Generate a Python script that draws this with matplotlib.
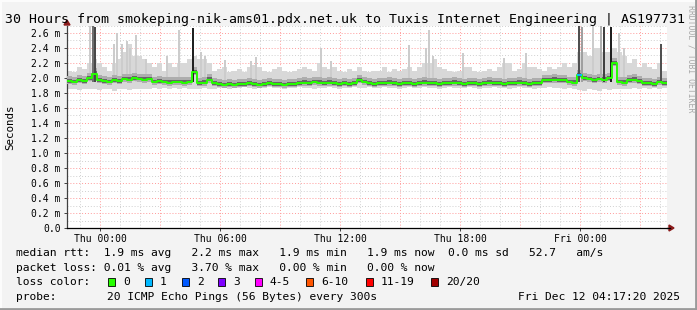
import numpy as np
import matplotlib
matplotlib.use("Agg")
import matplotlib.pyplot as plt
from matplotlib.patches import Rectangle, Polygon
from matplotlib.lines import Line2D

plt.rcParams['font.family'] = ['DejaVu Sans Mono']

# time axis: hours relative to Thu 00:00, one step per 15 minutes
t_start = -1.65
t_step = 0.25

# median rtt per step (ms)
median = [1.96, 1.95, 1.97, 1.96, 2.00, 2.06, 1.97, 1.96, 1.95, 1.97,
          1.96, 1.99, 1.98, 2.00, 1.99, 1.98, 1.99, 1.95, 1.96, 1.95,
          1.94, 1.95, 1.95, 1.94, 1.95, 2.08, 1.93, 1.94, 1.98, 1.93,
          1.92, 1.91, 1.92, 1.91, 1.92, 1.92, 1.93, 1.92, 1.91, 1.92,
          1.93, 1.92, 1.92, 1.91, 1.92, 1.92, 1.93, 1.94, 1.93, 1.95,
          1.94, 1.93, 1.94, 1.93, 1.92, 1.93, 1.92, 1.93, 1.97, 1.95,
          1.93, 1.92, 1.93, 1.93, 1.94, 1.93, 1.92, 1.93, 1.93, 1.92,
          1.93, 1.94, 1.93, 1.93, 1.92, 1.93, 1.93, 1.94, 1.93, 1.92,
          1.93, 1.93, 1.92, 1.93, 1.94, 1.93, 1.93, 1.92, 1.93, 1.93,
          1.94, 1.93, 1.92, 1.93, 1.93, 1.97, 1.97, 1.98, 1.97, 1.97,
          1.95, 1.94, 2.04, 2.00, 1.99, 1.97, 1.99, 1.98, 2.00, 2.20,
          1.95, 1.94, 1.97, 1.98, 1.96, 1.93, 1.93, 1.92, 1.95, 1.93]

# highest / lowest ping per step (ms), without the isolated spikes
smoke_hi = [2.10, 2.08, 2.15, 2.12, 2.20, 2.25, 2.20, 2.15, 2.10, 2.20,
            2.25, 2.35, 2.45, 2.30, 2.30, 2.25, 2.20, 2.15, 2.20, 2.10,
            2.20, 2.15, 2.20, 2.20, 2.25, 2.30, 2.25, 2.25, 2.20, 2.10,
            2.12, 2.15, 2.08, 2.10, 2.12, 2.08, 2.15, 2.18, 2.15, 2.10,
            2.08, 2.12, 2.15, 2.10, 2.08, 2.10, 2.12, 2.15, 2.12, 2.10,
            2.20, 2.15, 2.12, 2.15, 2.10, 2.08, 2.12, 2.10, 2.15, 2.10,
            2.08, 2.10, 2.10, 2.15, 2.08, 2.12, 2.10, 2.12, 2.15, 2.10,
            2.15, 2.20, 2.20, 2.25, 2.15, 2.12, 2.10, 2.08, 2.10, 2.15,
            2.15, 2.10, 2.08, 2.10, 2.12, 2.10, 2.15, 2.20, 2.20, 2.10,
            2.12, 2.20, 2.15, 2.15, 2.12, 2.10, 2.15, 2.12, 2.15, 2.20,
            2.15, 2.20, 2.35, 2.35, 2.30, 2.40, 2.40, 2.35, 2.35, 2.40,
            2.35, 2.30, 2.20, 2.25, 2.15, 2.20, 2.15, 2.12, 2.20, 2.10]

smoke_lo = [1.85, 1.86, 1.84, 1.85, 1.86, 1.85, 1.84, 1.86, 1.85, 1.83,
            1.85, 1.86, 1.84, 1.85, 1.86, 1.85, 1.86, 1.87, 1.86, 1.87,
            1.86, 1.87, 1.86, 1.87, 1.86, 1.85, 1.86, 1.87, 1.86, 1.86,
            1.87, 1.87, 1.86, 1.87, 1.87, 1.88, 1.87, 1.86, 1.87, 1.87,
            1.88, 1.87, 1.87, 1.86, 1.87, 1.87, 1.88, 1.87, 1.87, 1.86,
            1.87, 1.87, 1.88, 1.87, 1.86, 1.87, 1.87, 1.88, 1.87, 1.87,
            1.88, 1.87, 1.87, 1.88, 1.87, 1.87, 1.86, 1.87, 1.88, 1.87,
            1.87, 1.88, 1.87, 1.87, 1.86, 1.87, 1.88, 1.87, 1.87, 1.87,
            1.88, 1.87, 1.86, 1.87, 1.87, 1.88, 1.87, 1.87, 1.86, 1.87,
            1.88, 1.87, 1.87, 1.86, 1.87, 1.87, 1.88, 1.87, 1.87, 1.86,
            1.87, 1.86, 1.84, 1.83, 1.85, 1.84, 1.83, 1.85, 1.84, 1.85,
            1.86, 1.85, 1.86, 1.87, 1.86, 1.87, 1.86, 1.87, 1.86, 1.87]

# isolated latency spikes: time (h from Thu 00:00), top (ms), shade
spike_t = [-0.55, -0.40, -0.30, 0.65, 0.80, 1.05, 1.30, 1.45, 1.75, 2.25,
           3.30, 3.90, 4.60, 5.00, 5.20, 6.20, 7.50, 7.75, 11.00, 11.50,
           15.40, 16.25, 16.40, 16.60, 18.10, 20.15, 21.25, 23.90, 24.05, 24.60,
           25.00, 25.15, 25.50, 25.90, 26.15, 28.00]
spike_top = [2.70, 2.70, 2.68, 2.45, 2.60, 2.45, 2.50, 2.40, 2.57, 2.25,
             2.30, 2.64, 2.66, 2.35, 2.30, 2.24, 2.22, 2.28, 2.40, 2.22,
             2.44, 2.40, 2.64, 2.30, 2.33, 2.27, 2.33, 2.70, 2.68, 2.70,
             2.70, 2.68, 2.68, 2.60, 2.40, 2.45]
spike_shade = ['#cccccc', '#707070', '#484848', '#cccccc', '#cccccc', '#cccccc', '#cccccc', '#cccccc', '#cccccc', '#cccccc',
               '#cccccc', '#cccccc', '#202020', '#cccccc', '#cccccc', '#cccccc', '#cccccc', '#cccccc', '#cccccc', '#cccccc',
               '#cccccc', '#cccccc', '#cccccc', '#cccccc', '#cccccc', '#cccccc', '#cccccc', '#505050', '#a0a0a0', '#cccccc',
               '#b0b0b0', '#404040', '#202020', '#cccccc', '#cccccc', '#505050']

# steps with packet loss (index into median) and number of lost pings
loss_step = [102]
loss_count = [1]

loss_labels = ['0', '1', '2', '3', '4-5', '6-10', '11-19', '20/20']
loss_colors = ['#26ff00', '#00b8ff', '#0059ff', '#7e00ff', '#ff00ff', '#ff5500', '#ff0000', '#a10000']

x_ticks = [0, 6, 12, 18, 24]
x_labels = ['Thu 00:00', 'Thu 06:00', 'Thu 12:00', 'Thu 18:00', 'Fri 00:00']
y_ticks = [0.0, 0.2, 0.4, 0.6, 0.8, 1.0, 1.2, 1.4, 1.6, 1.8, 2.0, 2.2, 2.4, 2.6]

title = "30 Hours from smokeping-nik-ams01.pdx.net.uk to Tuxis Internet Engineering | AS197731"
legend_rows = [
    "median rtt:  1.9 ms avg   2.2 ms max   1.9 ms min   1.9 ms now  0.0 ms sd   52.7   am/s",
    "packet loss: 0.01 % avg   3.70 % max   0.00 % min   0.00 % now",
]
probe_text = "20 ICMP Echo Pings (56 Bytes) every 300s"
stamp = "Fri Dec 12 04:17:20 2025"

W, H = 697, 310
BG = '#f3f3f3'
fig = plt.figure(figsize=(W / 100, H / 100), dpi=100, facecolor=BG)


def fx(px):
    return px / W


def fy(py):
    return 1 - py / H


ax_l, ax_r, ax_t, ax_b = 67, 667, 25.5, 228
ax = fig.add_axes([fx(ax_l), fy(ax_b), (ax_r - ax_l) / W, (ax_b - ax_t) / H])
ax.set_facecolor('white')

n = len(median)
t_edges = t_start + t_step * np.arange(n + 1)
med = np.array(median)
lo = np.array(smoke_lo)
hi = np.array(smoke_hi)


def ext(a):
    return np.r_[a, a[-1]]


# grid
for h in np.arange(-1, 29, 1):
    c = '#ff9a9a' if h % 3 == 0 else '#d0d0d0'
    ax.axvline(h, color=c, lw=0.7, ls=(0, (1, 2)), zorder=1)
for v in np.arange(0.1, 2.71, 0.1):
    major = round(v * 10) % 2 == 0
    ax.axhline(v, color='#ff9a9a' if major else '#d0d0d0', lw=0.7, ls=(0, (1, 2)), zorder=1)

# smoke: outer light layer, spikes, then darker layers toward the median
ax.fill_between(t_edges, ext(lo), ext(hi), step='post', color='#d8d8d8', lw=0, zorder=2)
sw = 0.12
for st, top, sh in zip(spike_t, spike_top, spike_shade):
    ax.bar(st, top - 1.95, bottom=1.95, width=sw, align='edge', color=sh, lw=0,
           zorder=3 if sh == '#cccccc' else 5)

MID_DN, MID_UP = 0.04, 0.07
CORE_DN, CORE_UP = 0.02, 0.03
ax.fill_between(t_edges, ext(np.maximum(lo, med - MID_DN)), ext(np.minimum(hi, med + MID_UP)),
                step='post', color='#adadad', lw=0, zorder=4)
ax.fill_between(t_edges, ext(med - CORE_DN), ext(med + CORE_UP),
                step='post', color='#666666', lw=0, zorder=4)

# median line coloured by loss
ax.step(t_edges, ext(med), where='post', color=loss_colors[0], lw=1.4, zorder=6)
for k, c in zip(loss_step, loss_count):
    ax.plot([t_edges[k], t_edges[k + 1]], [med[k], med[k]], color=loss_colors[c], lw=1.4,
            solid_capstyle='butt', zorder=7)

ax.set_xlim(t_start, t_start + n * t_step)
ax.set_ylim(0, 2.7)
for s in ['top', 'right']:
    ax.spines[s].set_visible(False)
ax.spines['left'].set_color('#404040')
ax.spines['bottom'].set_color('black')
ax.spines['left'].set_linewidth(0.9)
ax.spines['bottom'].set_linewidth(0.9)

ax.set_xticks(x_ticks)
ax.set_xticklabels(x_labels, fontsize=7)
ax.set_yticks(y_ticks)
ax.set_yticklabels(['0.0' if v == 0 else f'{v:.1f} m' for v in y_ticks], fontsize=7)
ax.tick_params(axis='both', length=2.5, width=0.7, color='#404040', pad=2)

# axis arrows
fig.add_artist(Line2D([fx(ax_r), fx(670)], [fy(ax_b), fy(ax_b)], color='black', lw=0.9))
fig.add_artist(Polygon([[fx(669), fy(225)], [fx(674), fy(228)], [fx(669), fy(231)]],
                       closed=True, color='#8b1a1a', transform=fig.transFigure))
fig.add_artist(Polygon([[fx(64), fy(25)], [fx(67), fy(20)], [fx(70), fy(25)]],
                       closed=True, color='#8b1a1a', transform=fig.transFigure))

# texts
fig.text(fx(5), fy(19), title, fontsize=9.5, ha='left', va='center')
fig.text(fx(10), fy(127), 'Seconds', fontsize=7.8, rotation=90, ha='center', va='center')
fig.text(fx(691), fy(5), 'RRDTOOL / TOBI OETIKER', fontsize=5.9, rotation=270,
         ha='center', va='top', color='#a8a8a8')

fs = 8.1
fig.text(fx(16), fy(253), legend_rows[0], fontsize=fs, ha='left', va='center')
fig.text(fx(16), fy(268), legend_rows[1], fontsize=fs, ha='left', va='center')
fig.text(fx(16), fy(282), 'loss color:', fontsize=fs, ha='left', va='center')
box_x = [108, 145, 182, 218, 255, 306, 366, 431]
for bx, lab, col in zip(box_x, loss_labels, loss_colors):
    fig.add_artist(Rectangle((fx(bx), fy(286)), 7 / W, 8 / H, transform=fig.transFigure,
                             facecolor=col, edgecolor='black', lw=0.6))
    fig.text(fx(bx + 15), fy(282), lab, fontsize=fs, ha='left', va='center')
fig.text(fx(16), fy(297), 'probe:', fontsize=fs, ha='left', va='center')
fig.text(fx(107), fy(297), probe_text, fontsize=fs, ha='left', va='center')
fig.text(fx(680), fy(297), stamp, fontsize=fs, ha='right', va='center')

# 3d frame
fig.add_artist(Line2D([0, 1], [fy(0.5), fy(0.5)], color='#fcfcfc', lw=1.5))
fig.add_artist(Line2D([fx(0.5), fx(0.5)], [0, 1], color='#fcfcfc', lw=1.5))
fig.add_artist(Line2D([0, 1], [fy(309), fy(309)], color='#9a9a9a', lw=2))
fig.add_artist(Line2D([fx(696), fx(696)], [0, 1], color='#9a9a9a', lw=2))

fig.savefig('out.png', dpi=100, facecolor=BG)
